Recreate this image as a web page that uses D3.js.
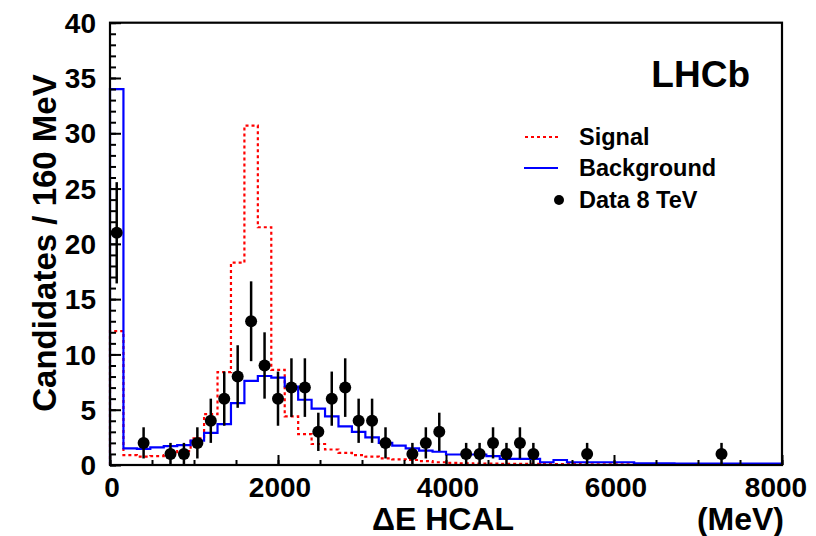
<!DOCTYPE html>
<html>
<head>
<meta charset="utf-8">
<script src="https://cdn.jsdelivr.net/npm/d3@7"></script>
<style>
  html, body { margin: 0; padding: 0; background: #fff; }
  svg { display: block; }
  text { font-family: "Liberation Sans", Arial, Helvetica, sans-serif; font-weight: bold; fill: #000; }
</style>
</head>
<body>
<div id="chart"></div>
<script>
// ---------------- DATA ----------------
const binWidthMeV = 160;
const xTickValues = [0, 2000, 4000, 6000, 8000];
const yTickValues = [0, 5, 10, 15, 20, 25, 30, 35, 40];

// Signal histogram (50 bins of 160 MeV, 0-8000 MeV)
const signalValues = [12.1, 0.9, 0.75, 0.8, 0.9, 1.25, 2.4, 4.6, 8.4, 18.3,
  30.7, 21.5, 8.6, 4.4, 2.8, 1.9, 1.4, 1.1, 0.9, 0.75,
  0.6, 0.5, 0.45, 0.35, 0.25, 0.2, 0.15, 0.12, 0.12, 0.1,
  0.1, 0.1, 0.08, 0.08, 0.08, 0.06, 0.06, 0.06, 0.05, 0.05,
  0.04, 0.04, 0.04, 0.03, 0.03, 0.03, 0.03, 0.02, 0.02, 0.02];

// Background histogram
const backgroundValues = [34, 1.5, 1.45, 1.6, 1.7, 1.8, 2.2, 2.9, 3.7, 5.6,
  7.6, 8.05, 7.9, 7.1, 5.9, 5.1, 4.4, 3.5, 3.0, 2.5,
  2.0, 1.75, 1.5, 1.3, 1.2, 0.95, 0.95, 0.95, 0.8, 0.55,
  0.55, 0.55, 0.25, 0.45, 0.25, 0.25, 0.25, 0.25, 0.25, 0.15,
  0.15, 0.15, 0.13, 0.13, 0.13, 0.12, 0.12, 0.12, 0.12, 0.12];

// Data 8 TeV points (bin centre in MeV, count, error)
const dataX = [80, 400, 720, 880, 1040, 1200, 1360, 1520, 1680, 1840,
  2000, 2160, 2320, 2480, 2640, 2800, 2960, 3120, 3280, 3600,
  3760, 3920, 4240, 4400, 4560, 4720, 4880, 5040, 5680, 7280];
const dataN = [21, 2, 1, 1, 2, 4, 6, 8, 13, 9,
  6, 7, 7, 3, 6, 7, 4, 4, 2, 1,
  2, 3, 1, 1, 2, 1, 2, 1, 1, 1];
const dataErr = [4.58, 1.41, 1, 1, 1.41, 2, 2.45, 2.83, 3.61, 3,
  2.45, 2.65, 2.65, 1.73, 2.45, 2.65, 2, 2, 1.41, 1,
  1.41, 1.73, 1, 1, 1.41, 1, 1.41, 1, 1, 1];

const legendLabels = ["Signal", "Background", "Data 8 TeV"];

// ---------------- LAYOUT ----------------
const W = 816, H = 536;
const plot = { left: 110, right: 782, top: 22.7, bottom: 465 };

const svg = d3.select("#chart").append("svg").attr("width", W).attr("height", H);
svg.append("rect").attr("width", W).attr("height", H).attr("fill", "#fff");

const x = d3.scaleLinear().domain([0, 8000]).range([plot.left, plot.right]);
const y = d3.scaleLinear().domain([0, 40]).range([plot.bottom, plot.top]);

function histPoints(values) {
  const pts = [[0, 0]];
  values.forEach((v, i) => {
    pts.push([i * binWidthMeV, v]);
    pts.push([(i + 1) * binWidthMeV, v]);
  });
  pts.push([values.length * binWidthMeV, 0]);
  return pts;
}
const line = d3.line().x(d => x(d[0])).y(d => y(d[1]));

const gPlot = svg.append("g");

// Signal (red dotted)
gPlot.append("path")
  .attr("d", line(histPoints(signalValues)))
  .attr("fill", "none").attr("stroke", "#ff0000").attr("stroke-width", 2.2)
  .attr("stroke-dasharray", "3,3");

// Background (blue)
gPlot.append("path")
  .attr("d", line(histPoints(backgroundValues)))
  .attr("fill", "none").attr("stroke", "#0000ff").attr("stroke-width", 2.2);

// Data points
const pts = dataX.map((d, i) => ({ x: d, n: dataN[i], e: dataErr[i] }));
gPlot.selectAll("line.err").data(pts).enter().append("line")
  .attr("class", "err")
  .attr("x1", d => x(d.x)).attr("x2", d => x(d.x))
  .attr("y1", d => y(d.n + d.e)).attr("y2", d => y(Math.max(0, d.n - d.e)))
  .attr("stroke", "#000").attr("stroke-width", 2.5);
gPlot.selectAll("circle.pt").data(pts).enter().append("circle")
  .attr("class", "pt")
  .attr("cx", d => x(d.x)).attr("cy", d => y(d.n)).attr("r", 6)
  .attr("fill", "#000");

// ---------------- AXES ----------------
// Y axis ticks (inward)
const yAxisMajor = d3.axisRight(y).tickValues(yTickValues).tickSize(11).tickFormat("");
const yAxisMinor = d3.axisRight(y).tickValues(d3.range(0, 41, 1)).tickSize(6).tickFormat("");
[yAxisMinor, yAxisMajor].forEach(ax => {
  const g = svg.append("g").attr("transform", `translate(${plot.left},0)`).call(ax);
  g.select(".domain").remove();
  g.selectAll(".tick line").attr("stroke", "#000").attr("stroke-width", 2);
});
// X axis ticks (inward)
const xAxisMajor = d3.axisTop(x).tickValues(xTickValues).tickSize(10).tickFormat("");
const xAxisMinor = d3.axisTop(x).tickValues(d3.range(0, 8001, 500)).tickSize(5).tickFormat("");
[xAxisMinor, xAxisMajor].forEach(ax => {
  const g = svg.append("g").attr("transform", `translate(0,${plot.bottom})`).call(ax);
  g.select(".domain").remove();
  g.selectAll(".tick line").attr("stroke", "#000").attr("stroke-width", 2);
});

// Frame
svg.append("rect")
  .attr("x", plot.left).attr("y", plot.top)
  .attr("width", plot.right - plot.left).attr("height", plot.bottom - plot.top)
  .attr("fill", "none").attr("stroke", "#000").attr("stroke-width", 2.2);

// Tick labels
svg.append("g").selectAll("text").data(yTickValues).enter().append("text")
  .attr("x", 96).attr("y", d => y(d)).attr("dy", "0.36em")
  .attr("text-anchor", "end").attr("font-size", 28)
  .text(d => d);
svg.append("g").selectAll("text").data(xTickValues).enter().append("text")
  .attr("x", d => d === 8000 ? x(d) - 6 : x(d) + 2).attr("y", 497)
  .attr("text-anchor", "middle").attr("font-size", 28)
  .text(d => d);

// Axis titles
svg.append("text")
  .attr("transform", `translate(56,243) rotate(-90)`)
  .attr("text-anchor", "middle").attr("font-size", 33)
  .text("Candidates / 160 MeV");
svg.append("text")
  .attr("x", 372).attr("y", 530).attr("font-size", 32)
  .text("ΔE HCAL");
svg.append("text")
  .attr("x", 784).attr("y", 530).attr("text-anchor", "end").attr("font-size", 32)
  .text("(MeV)");

// LHCb label
svg.append("text")
  .attr("x", 750).attr("y", 87).attr("text-anchor", "end").attr("font-size", 37)
  .text("LHCb");

// Legend
const leg = svg.append("g");
const legY = [137, 168, 200];
leg.append("line").attr("x1", 525).attr("x2", 558).attr("y1", legY[0]).attr("y2", legY[0])
  .attr("stroke", "#ff0000").attr("stroke-width", 2.2).attr("stroke-dasharray", "3,3");
leg.append("line").attr("x1", 524).attr("x2", 558).attr("y1", legY[1]).attr("y2", legY[1])
  .attr("stroke", "#0000ff").attr("stroke-width", 2.2);
leg.append("circle").attr("cx", 559).attr("cy", legY[2]).attr("r", 5).attr("fill", "#000");
leg.selectAll("text").data(legendLabels).enter().append("text")
  .attr("x", 579).attr("y", (d, i) => legY[i]).attr("dy", "0.36em")
  .attr("font-size", 23.5)
  .text(d => d);
</script>
</body>
</html>
